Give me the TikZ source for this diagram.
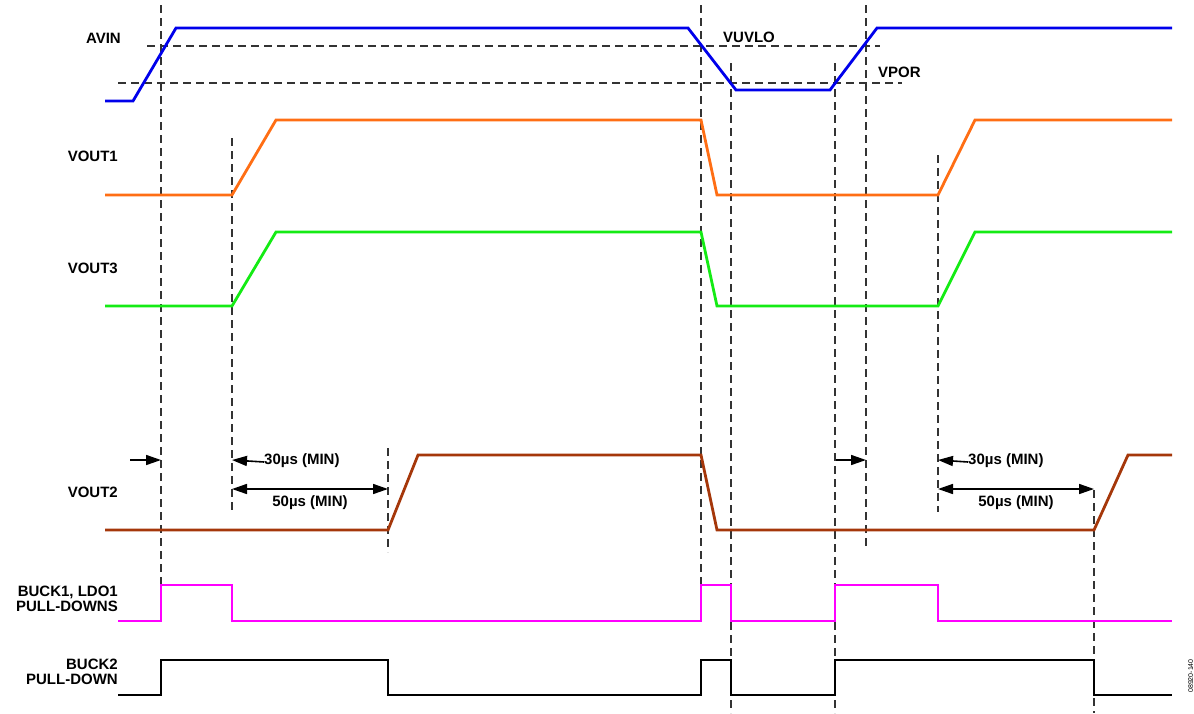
\documentclass[tikz,border=0pt]{standalone}
\usepackage{fontspec}
\setmainfont{Liberation Sans}
\usetikzlibrary{arrows.meta}
\definecolor{avinblue}{RGB}{0,0,235}
\definecolor{v1orange}{RGB}{255,110,20}
\definecolor{v3green}{RGB}{20,235,20}
\definecolor{v2brown}{RGB}{165,55,10}
\definecolor{pdmag}{RGB}{255,0,255}
\begin{document}
\begin{tikzpicture}[x=1pt,y=-1pt,
  sig/.style={line width=2.8pt, line join=miter},
  guide/.style={dash pattern=on 8pt off 5pt, line width=1.2pt, black!80},
  lbl/.style={font=\fontsize{15}{15}\selectfont\bfseries, inner sep=0pt, align=right},
  dimarrow/.style={line width=1.6pt, -{Triangle[length=15pt,width=10pt]}},
  dimboth/.style={line width=1.6pt, {Triangle[length=15pt,width=10pt]}-{Triangle[length=15pt,width=10pt]}},
  dimtext/.style={font=\fontsize{15}{15}\selectfont\bfseries, inner sep=0pt}]
\useasboundingbox (0,0) rectangle (1194,713);

% guide lines
\coordinate (g1a) at (161,5);   \coordinate (g1b) at (161,585);
\coordinate (g2a) at (232,138); \coordinate (g2b) at (232,510);
\coordinate (g3a) at (388,448); \coordinate (g3b) at (388,552);
\coordinate (g4a) at (701,5);   \coordinate (g4b) at (701,585);
\coordinate (g5a) at (731,63);  \coordinate (g5b) at (731,713);
\coordinate (g6a) at (835,63);  \coordinate (g6b) at (835,713);
\coordinate (g7a) at (866,5);   \coordinate (g7b) at (866,548);
\coordinate (g8a) at (938,155); \coordinate (g8b) at (938,512);
\coordinate (g9a) at (1094,490);\coordinate (g9b) at (1094,713);
\foreach \i in {1,...,9} \draw[guide] (g\i a) -- (g\i b);

\coordinate (uvloa) at (147,46); \coordinate (uvlob) at (880,46);
\coordinate (pora) at (118,83);  \coordinate (porb) at (902,83);
\draw[guide] (uvloa) -- (uvlob);
\draw[guide] (pora) -- (porb);

% signals
\draw[sig, avinblue] (105,101) -- (133,101) -- (176,28) -- (688,28) -- (736,90) -- (830,90) -- (877,28) -- (1172,28);
\draw[sig, v1orange] (105,195) -- (232,195) -- (276,120) -- (701,120) -- (717,195) -- (938,195) -- (975,120) -- (1172,120);
\draw[sig, v3green] (105,306) -- (232,306) -- (276,232) -- (701,232) -- (717,306) -- (938,306) -- (975,232) -- (1172,232);
\draw[sig, v2brown] (105,530) -- (388,530) -- (418,455) -- (701,455) -- (717,530) -- (1094,530) -- (1128,455) -- (1172,455);
\draw[sig, pdmag] (118,621) -- (161,621) -- (161,585) -- (232,585) -- (232,621) -- (701,621) -- (701,585) -- (731,585) -- (731,621) -- (835,621) -- (835,585) -- (938,585) -- (938,621) -- (1172,621);
\draw[sig, black] (118,695) -- (161,695) -- (161,660) -- (388,660) -- (388,695) -- (701,695) -- (701,660) -- (731,660) -- (731,695) -- (835,695) -- (835,660) -- (1094,660) -- (1094,695) -- (1172,695);

% labels
\node[lbl, anchor=east] (lavin) at (121,38) {AVIN};
\node[lbl, anchor=east] (lv1) at (118,156) {VOUT1};
\node[lbl, anchor=east] (lv3) at (118,268) {VOUT3};
\node[lbl, anchor=east] (lv2) at (118,492) {VOUT2};
\node[lbl, anchor=east] (lpd1) at (118,599) {BUCK1, LDO1\\PULL-DOWNS};
\node[lbl, anchor=east] (lpd2) at (118,672) {BUCK2\\PULL-DOWN};
\node[lbl, anchor=west] (luvlo) at (723,37) {VUVLO};
\node[lbl, anchor=west] (lpor) at (878,72) {VPOR};

% dimension arrows, left
\coordinate (da1) at (130,460); \coordinate (db1) at (161,460);
\draw[dimarrow] (da1) -- (db1);
\node[dimtext, anchor=west] (t30a) at (264,461) {30µs (MIN)};
\coordinate (e30a) at (232,460);
\draw[dimarrow] ([yshift=-1pt]t30a.west) -- (e30a);
\coordinate (f50a) at (232,489); \coordinate (f50b) at (388,489);
\draw[dimboth] (f50a) -- (f50b);
\node[dimtext] (t50a) at (310,503) {50µs (MIN)};

% dimension arrows, right
\coordinate (da2) at (836,460); \coordinate (db2) at (866,460);
\draw[dimarrow] (da2) -- (db2);
\node[dimtext, anchor=west] (t30b) at (968,461) {30µs (MIN)};
\coordinate (e30b) at (938,460);
\draw[dimarrow] ([yshift=-1pt]t30b.west) -- (e30b);
\coordinate (f50c) at (938,489); \coordinate (f50d) at (1094,489);
\draw[dimboth] (f50c) -- (f50d);
\node[dimtext] (t50b) at (1016,503) {50µs (MIN)};

% figure code
\node[font=\fontsize{7}{7}\selectfont, rotate=90, anchor=north, inner sep=0pt] (code) at (1188,676) {08920-140};
\end{tikzpicture}
\end{document}
